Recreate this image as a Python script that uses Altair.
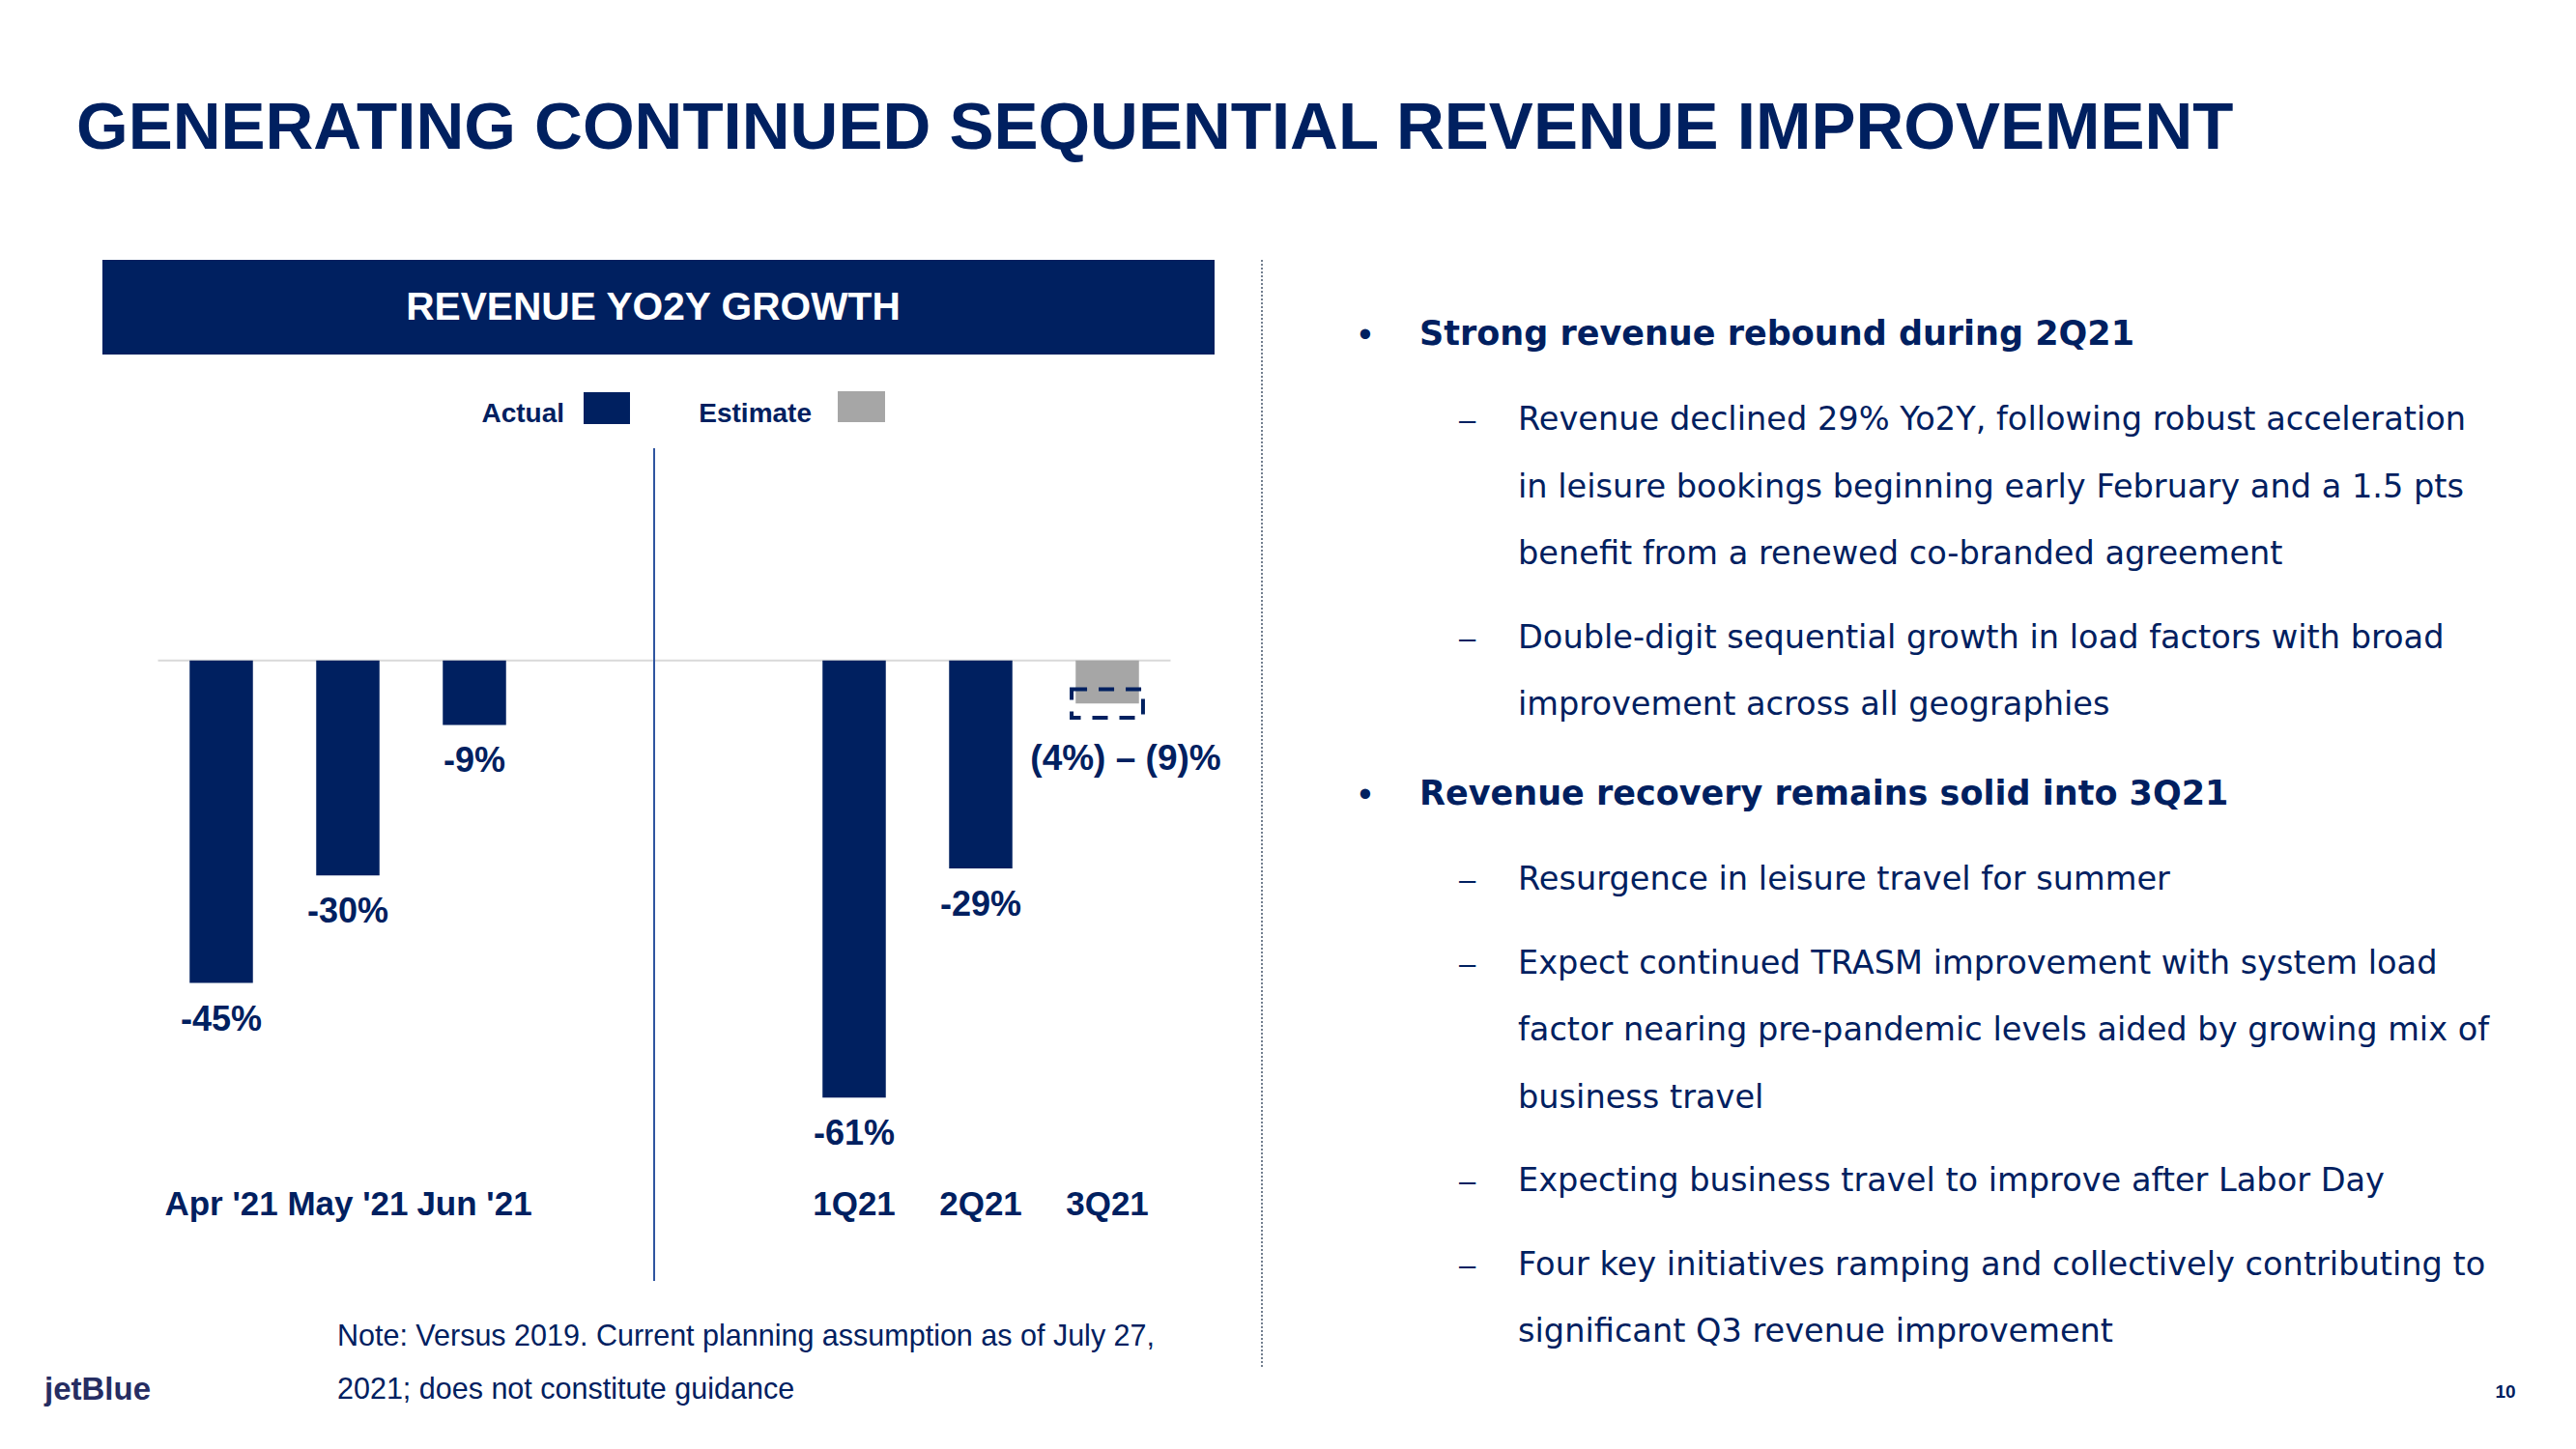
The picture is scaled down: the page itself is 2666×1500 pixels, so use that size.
import altair as alt
import pandas as pd

# ------------------------------------------------------------------ data
MONTHS = ["Apr '21", "May '21", "Jun '21"]
MONTH_VALUES = [-45, -30, -9]
MONTH_LABELS = ["-45%", "-30%", "-9%"]

QUARTERS = ["1Q21", "2Q21", "3Q21"]
QUARTER_VALUES = [-61, -29, -6]
QUARTER_TYPES = ["Actual", "Actual", "Estimate"]
QUARTER_LABELS = ["-61%", "-29%", "(4%) – (9)%"]

EST_RANGE = [-4, -8]  # 3Q21 planning range (dashed box)
LEGEND_ITEMS = ["Actual", "Estimate"]

TITLE = "GENERATING CONTINUED SEQUENTIAL REVENUE IMPROVEMENT"
PANEL_TITLE = "REVENUE YO2Y GROWTH"
HEADINGS = ["Strong revenue rebound during 2Q21",
            "Revenue recovery remains solid into 3Q21"]
SUB_BULLETS_1 = [
    ["Revenue declined 29% Yo2Y, following robust acceleration",
     "in leisure bookings beginning early February and a 1.5 pts",
     "benefit from a renewed co-branded agreement"],
    ["Double-digit sequential growth in load factors with broad",
     "improvement across all geographies"],
]
SUB_BULLETS_2 = [
    ["Resurgence in leisure travel for summer"],
    ["Expect continued TRASM improvement with system load",
     "factor nearing pre-pandemic levels aided by growing mix of",
     "business travel"],
    ["Expecting business travel to improve after Labor Day"],
    ["Four key initiatives ramping and collectively contributing to",
     "significant Q3 revenue improvement"],
]
NOTE_LINES = ["Note: Versus 2019. Current planning assumption as of July 27,",
              "2021; does not constitute guidance"]
LOGO = "jetBlue"
PAGE_NUMBER = "10"

# ------------------------------------------------------------------ layout / style
W, H = 2650, 1470
NAVY = "#002060"
GREY = "#A6A6A6"
SANS = "Liberation Sans, Arial, sans-serif"
BODY = "DejaVu Sans, Liberation Sans, sans-serif"

SLOT_PX = 131.0       # px between neighbouring bar slots
SLOT0_X = 221.0       # plot x of first slot
QUARTER_SLOT_OFFSET = 5
ZERO_Y = 675.7        # plot y of 0%
PX_PER_PCT = 7.42

x_scale = alt.Scale(domain=[-SLOT0_X / SLOT_PX, (W - SLOT0_X) / SLOT_PX],
                    nice=False, zero=False, padding=0)
y_scale = alt.Scale(domain=[(ZERO_Y - H) / PX_PER_PCT, ZERO_Y / PX_PER_PCT],
                    nice=False, zero=False, padding=0)
color_scale = alt.Scale(domain=LEGEND_ITEMS, range=[NAVY, GREY])

slots = list(range(len(MONTHS))) + [QUARTER_SLOT_OFFSET + i for i in range(len(QUARTERS))]
types = ["Actual"] * len(MONTHS) + QUARTER_TYPES
values = MONTH_VALUES + QUARTER_VALUES
bars = pd.DataFrame({
    "cat": MONTHS + QUARTERS,
    "value": values,
    "type": types,
    "label": MONTH_LABELS + QUARTER_LABELS,
    "slot": slots,
})
bars["x0"] = bars["slot"] - 0.25
bars["x1"] = bars["slot"] + 0.25
bars["zero"] = 0
bars["label_y"] = [v if t == "Actual" else min(EST_RANGE) for v, t in zip(values, types)]
actual_bars = bars[bars["type"] == "Actual"]
estimate_bars = bars[bars["type"] == "Estimate"]

est_slot = [s for s, t in zip(slots, types) if t == "Estimate"][0]
est_box = pd.DataFrame({"x0": [est_slot - 0.282], "x1": [est_slot + 0.282],
                        "hi": [max(EST_RANGE)], "lo": [min(EST_RANGE)]})
zero_line = pd.DataFrame({"x0": [min(slots) - 0.5], "x1": [max(slots) + 0.5], "y": [0]})

X = lambda f: alt.X(f, scale=x_scale, axis=None)
Y = lambda f: alt.Y(f, scale=y_scale, axis=None)


def txt(s, x, y, size, weight="normal", align="left", color=NAVY, font=SANS,
        baseline="alphabetic"):
    return alt.Chart(pd.DataFrame({"t": [s]})).mark_text(
        align=align, baseline=baseline, font=font, fontSize=size,
        fontWeight=weight, color=color
    ).encode(x=alt.value(x), y=alt.value(y), text="t:N")


def box(x0, y0, x1, y1, color):
    return alt.Chart(pd.DataFrame({"a": [0]})).mark_rect(color=color).encode(
        x=alt.value(x0), x2=alt.value(x1), y=alt.value(y0), y2=alt.value(y1))


layers = []

# title
layers.append(txt(TITLE, 71, 146, 69, "bold"))

# panel banner
layers.append(box(98, 261, 1249, 359, NAVY))
layers.append(txt(PANEL_TITLE, 668, 323, 40.7, "bold", align="center", color="white"))

# legend
legend_pos = [(576, 596, 398, 644, 431), (832, 859, 397, 908, 429)]
for item, (tx, sx0, sy0, sx1, sy1) in zip(LEGEND_ITEMS, legend_pos):
    layers.append(txt(item, tx, 429, 28, "bold", align="right"))
    layers.append(
        alt.Chart(pd.DataFrame({"type": [item]})).mark_rect().encode(
            x=alt.value(sx0), x2=alt.value(sx1), y=alt.value(sy0), y2=alt.value(sy1),
            color=alt.Color("type:N", scale=color_scale, legend=None)))

# zero line
layers.append(alt.Chart(zero_line).mark_rule(color="#D9D9D9", strokeWidth=2).encode(
    x=X("x0:Q"), x2="x1:Q", y=Y("y:Q")))

# divider between months and quarters
layers.append(alt.Chart(pd.DataFrame({"a": [0]})).mark_rule(
    color="#2F55A0", strokeWidth=2).encode(
    x=alt.value(669), y=alt.value(456), y2=alt.value(1318)))

# bars
layers.append(alt.Chart(bars).mark_rect().encode(
    x=X("x0:Q"), x2="x1:Q", y=Y("zero:Q"), y2="value:Q",
    color=alt.Color("type:N", scale=color_scale, legend=None)))

# dashed estimate range
layers.append(alt.Chart(est_box).mark_rect(
    fill="transparent", stroke=NAVY, strokeWidth=4, strokeDash=[16, 12]).encode(
    x=X("x0:Q"), x2="x1:Q", y=Y("hi:Q"), y2="lo:Q"))

# value labels
layers.append(alt.Chart(actual_bars).mark_text(
    font=SANS, fontSize=36, fontWeight="bold", color=NAVY, baseline="alphabetic",
    align="center", dy=49).encode(
    x=X("slot:Q"), y=Y("label_y:Q"), text="label:N"))
layers.append(alt.Chart(estimate_bars).mark_text(
    font=SANS, fontSize=37, fontWeight="bold", color=NAVY, baseline="alphabetic",
    align="center", dy=54, dx=19).encode(
    x=X("slot:Q"), y=Y("label_y:Q"), text="label:N"))

# category labels
layers.append(alt.Chart(bars).mark_text(
    font=SANS, fontSize=35, fontWeight="bold", color=NAVY, baseline="alphabetic",
    align="center").encode(
    x=X("slot:Q"), y=alt.value(1250), text="cat:N"))

# note
layers.append(txt(NOTE_LINES[0], 341, 1385, 30.5))
layers.append(txt(NOTE_LINES[1], 341, 1440, 30.5))

# dotted separator
layers.append(alt.Chart(pd.DataFrame({"a": [0]})).mark_rule(
    color="#44546A", strokeWidth=1.5, strokeDash=[2, 2]).encode(
    x=alt.value(1298), y=alt.value(261), y2=alt.value(1409)))

# right-hand bullets
BULLET_X, HEAD_X, DASH_X, SUB_X = 1405, 1461, 1510.5, 1563
LINE, PARA, HEAD_TO_SUB, SUB_TO_HEAD = 69.5, 86.5, 88, 93
y = 349
for h, (heading, groups) in enumerate(zip(HEADINGS, [SUB_BULLETS_1, SUB_BULLETS_2])):
    if h > 0:
        y += SUB_TO_HEAD
    layers.append(txt("•", BULLET_X, y + 2, 38, align="center"))
    layers.append(txt(heading, HEAD_X, y, 35, "bold", font=BODY))
    y += HEAD_TO_SUB
    for g, lines in enumerate(groups):
        if g > 0:
            y += PARA
        layers.append(txt("–", DASH_X, y, 31, align="center"))
        for i, line in enumerate(lines):
            if i > 0:
                y += LINE
            layers.append(txt(line, SUB_X, y, 33.6, font=BODY))

# logo and page number
layers.append(txt(LOGO, 38, 1441, 33, "bold", color="#262D62"))
layers.append(txt(PAGE_NUMBER, 2585, 1439, 19, "bold", align="center"))

chart = alt.layer(*layers).properties(
    width=W, height=H, padding=0,
    autosize=alt.AutoSizeParams(type="none"),
    background="white",
).configure_view(strokeWidth=0)

chart.save("out.html", embed_options={"renderer": "svg", "actions": False})
